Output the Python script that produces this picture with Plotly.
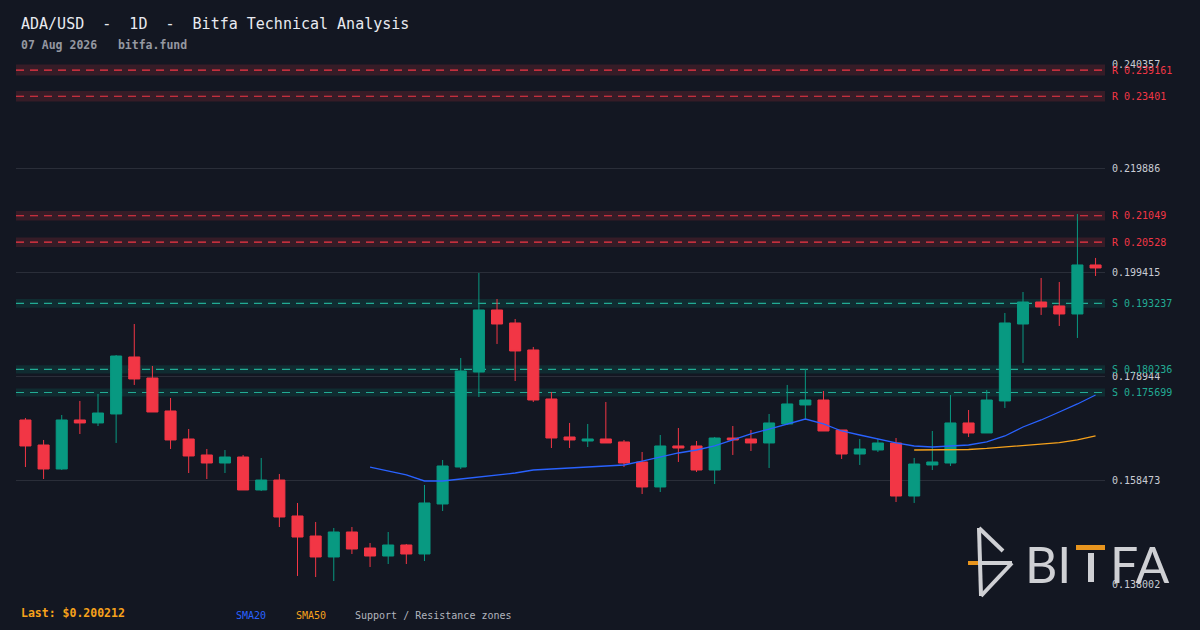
import pandas as pd
import plotly.graph_objects as go

# ADA/USD daily candles, 60 sessions ending 07 Aug 2026
dates = pd.date_range(end="2026-08-07", periods=60, freq="D")

open_ = [0.17029, 0.16536, 0.16064, 0.17029, 0.16970, 0.17147, 0.18269, 0.17855, 0.17206, 0.16655,
         0.16340, 0.16182, 0.16300, 0.15651, 0.15847, 0.15139, 0.14745, 0.14332, 0.14824, 0.14509,
         0.14351, 0.14568, 0.14391, 0.15375, 0.16103, 0.17973, 0.19194, 0.18938, 0.18407, 0.17442,
         0.16694, 0.16615, 0.16655, 0.16596, 0.16202, 0.15710, 0.16517, 0.16517, 0.16044, 0.16674,
         0.16655, 0.16576, 0.16950, 0.17324, 0.17422, 0.16832, 0.16359, 0.16438, 0.16576, 0.15532,
         0.16143, 0.16182, 0.16970, 0.16773, 0.17403, 0.18918, 0.19351, 0.19273, 0.19115, 0.20080]
high = [0.17068, 0.16635, 0.17127, 0.17403, 0.17540, 0.18308, 0.18918, 0.18092, 0.17462, 0.16851,
        0.16458, 0.16438, 0.16340, 0.16281, 0.15966, 0.15395, 0.15021, 0.14903, 0.14922, 0.14607,
        0.14824, 0.14588, 0.15749, 0.16241, 0.18249, 0.19922, 0.19410, 0.19017, 0.18466, 0.17580,
        0.16970, 0.16950, 0.17383, 0.16635, 0.16399, 0.16733, 0.16871, 0.16615, 0.16694, 0.16910,
        0.16832, 0.17147, 0.17718, 0.18033, 0.17599, 0.16832, 0.16655, 0.16655, 0.16674, 0.16281,
        0.16812, 0.17521, 0.17225, 0.17619, 0.19135, 0.19548, 0.19824, 0.19745, 0.21084, 0.20218]
low = [0.16103, 0.15867, 0.16044, 0.16753, 0.16910, 0.16576, 0.17718, 0.17186, 0.16458, 0.15985,
       0.15867, 0.15985, 0.15651, 0.15631, 0.14922, 0.13958, 0.13938, 0.13859, 0.14391, 0.14135,
       0.14194, 0.14194, 0.14253, 0.15237, 0.16064, 0.17481, 0.18525, 0.17796, 0.17383, 0.16477,
       0.16477, 0.16497, 0.16576, 0.16103, 0.15572, 0.15611, 0.16202, 0.16005, 0.15769, 0.16340,
       0.16418, 0.16084, 0.16930, 0.17048, 0.16812, 0.16261, 0.16143, 0.16399, 0.15414, 0.15395,
       0.16044, 0.16123, 0.16694, 0.16773, 0.17265, 0.18151, 0.19096, 0.18879, 0.18643, 0.19863]
close = [0.16517, 0.16064, 0.17029, 0.16970, 0.17166, 0.18288, 0.17836, 0.17186, 0.16635, 0.16320,
         0.16182, 0.16300, 0.15651, 0.15847, 0.15119, 0.14725, 0.14332, 0.14824, 0.14489, 0.14351,
         0.14568, 0.14391, 0.15395, 0.16123, 0.17993, 0.19194, 0.18918, 0.18387, 0.17422, 0.16674,
         0.16635, 0.16655, 0.16576, 0.16182, 0.15710, 0.16517, 0.16477, 0.16044, 0.16674, 0.16635,
         0.16576, 0.16970, 0.17344, 0.17422, 0.16812, 0.16359, 0.16458, 0.16576, 0.15532, 0.16162,
         0.16202, 0.16970, 0.16773, 0.17422, 0.18938, 0.19351, 0.19253, 0.19115, 0.20080, 0.20021]

# moving averages (start once enough history exists)
sma20 = [None] * 19 + [0.16103, 0.16025, 0.15946, 0.15828, 0.15828, 0.15867, 0.15907, 0.15946, 0.15985, 0.16044,
                       0.16064, 0.16084, 0.16094, 0.16113, 0.16143, 0.16221, 0.16300, 0.16379, 0.16438, 0.16517,
                       0.16635, 0.16753, 0.16851, 0.16950, 0.17048, 0.16950, 0.16812, 0.16733, 0.16655, 0.16576,
                       0.16517, 0.16497, 0.16517, 0.16536, 0.16596, 0.16714, 0.16891, 0.17029, 0.17186, 0.17344,
                       0.17521]
sma50 = [None] * 49 + [0.16438, 0.16438, 0.16438, 0.16448, 0.16468, 0.16497, 0.16536, 0.16556, 0.16583, 0.16635,
                       0.16714]

resistance = [0.239161, 0.23401, 0.21049, 0.20528]
support = [0.193237, 0.180236, 0.175699]
tick_vals = [0.138002, 0.158473, 0.178944, 0.199415, 0.219886, 0.240357]
last_price = "0.200212"

BG = "#131722"
UP = "#089981"
DOWN = "#f23645"
TEAL = "#22ab94"
MONO = "DejaVu Sans Mono"
ZONE = 0.0045

# plot area in pixels, used to place the decorations
L, R, T, B = 16, 1105, 64, 584


def px(x):
    return (x - L) / (R - L)


def py(y):
    return (B - y) / (B - T)


fig = go.Figure()
fig.add_trace(go.Candlestick(
    x=dates, open=open_, high=high, low=low, close=close,
    increasing=dict(line=dict(color=UP, width=1), fillcolor=UP),
    decreasing=dict(line=dict(color=DOWN, width=1), fillcolor=DOWN),
    whiskerwidth=0, showlegend=False, name="ADA/USD",
))
fig.add_trace(go.Scatter(x=dates, y=sma20, mode="lines", line=dict(color="#2962ff", width=1.3),
                         showlegend=False, name="SMA20"))
fig.add_trace(go.Scatter(x=dates, y=sma50, mode="lines", line=dict(color="#f7a21b", width=1.3),
                         showlegend=False, name="SMA50"))

shapes = []
annotations = []
for lv, col, band, tag in [(v, DOWN, "rgba(242,54,69,0.16)", "R") for v in resistance] + \
                          [(v, TEAL, "rgba(8,153,129,0.16)", "S") for v in support]:
    shapes.append(dict(type="rect", xref="paper", yref="y", x0=0, x1=1, y0=lv * (1 - ZONE), y1=lv * (1 + ZONE),
                       fillcolor=band, line=dict(width=0), layer="below"))
    shapes.append(dict(type="line", xref="paper", yref="y", x0=0, x1=1, y0=lv, y1=lv,
                       line=dict(color=col, width=1.2, dash="8px,6px"), layer="below"))
    annotations.append(dict(xref="paper", yref="y", x=1, y=lv, xanchor="left", xshift=5, showarrow=False,
                            text=f"{tag} {lv}", font=dict(family=MONO, size=10, color=col)))

# header / footer texts
annotations += [
    dict(xref="paper", yref="paper", x=px(19), y=py(24), xanchor="left", yanchor="middle", showarrow=False,
         text="ADA/USD  -  1D  -  Bitfa Technical Analysis", font=dict(family=MONO, size=15, color="#e8eaf0")),
    dict(xref="paper", yref="paper", x=px(19), y=py(45), xanchor="left", yanchor="middle", showarrow=False,
         text="<b>07 Aug 2026   bitfa.fund</b>", font=dict(family=MONO, size=11.5, color="#9598a1")),
    dict(xref="paper", yref="paper", x=px(19), y=py(613), xanchor="left", yanchor="middle", showarrow=False,
         text=f"<b>Last: ${last_price}</b>", font=dict(family=MONO, size=11.5, color="#f7a21b")),
    dict(xref="paper", yref="paper", x=px(234), y=py(615), xanchor="left", yanchor="middle", showarrow=False,
         text="SMA20", font=dict(family=MONO, size=10, color="#2962ff")),
    dict(xref="paper", yref="paper", x=px(294), y=py(615), xanchor="left", yanchor="middle", showarrow=False,
         text="SMA50", font=dict(family=MONO, size=10, color="#f7a21b")),
    dict(xref="paper", yref="paper", x=px(353), y=py(615), xanchor="left", yanchor="middle", showarrow=False,
         text="Support / Resistance zones", font=dict(family=MONO, size=10, color="#b2b5be")),
]

# BITFA logo, bottom right
LOGO = "#cfd0d4"
ORANGE = "#e8951e"
for (x0, y0, x1, y1, c) in [(979, 528, 981, 596, LOGO), (979, 528, 1003, 551, LOGO),
                            (968, 563, 978, 563, ORANGE), (978, 563, 1012, 563, LOGO),
                            (1012, 563, 981, 596, LOGO)]:
    shapes.append(dict(type="line", xref="paper", yref="paper", x0=px(x0), y0=py(y0), x1=px(x1), y1=py(y1),
                       line=dict(color=c, width=4), layer="above"))
shapes.append(dict(type="rect", xref="paper", yref="paper", x0=px(1076), x1=px(1105), y0=py(550), y1=py(545),
                   fillcolor=ORANGE, line=dict(width=0), layer="above"))
shapes.append(dict(type="rect", xref="paper", yref="paper", x0=px(1088), x1=px(1094), y0=py(582), y1=py(553),
                   fillcolor=LOGO, line=dict(width=0), layer="above"))
annotations += [
    dict(xref="paper", yref="paper", x=px(1073), y=py(564), xanchor="right", yanchor="middle", showarrow=False,
         text="BI", font=dict(family="Lato", size=50, color=LOGO)),
    dict(xref="paper", yref="paper", x=px(1108), y=py(564), xanchor="left", yanchor="middle", showarrow=False,
         text="FA", font=dict(family="Lato", size=50, color=LOGO)),
]

fig.update_layout(
    width=1200, height=630,
    margin=dict(l=L, r=1200 - R, t=T, b=630 - B),
    paper_bgcolor=BG, plot_bgcolor=BG,
    boxgap=0.39, boxgroupgap=0,
    shapes=shapes, annotations=annotations,
    xaxis=dict(type="date", showgrid=False, showticklabels=False, zeroline=False, showline=False,
               rangeslider=dict(visible=False),
               range=[dates[0] - pd.Timedelta(hours=12.5), dates[-1] + pd.Timedelta(hours=12.5)]),
    yaxis=dict(side="right", range=[tick_vals[0], tick_vals[-1]], tickvals=tick_vals,
               ticktext=[f"{v:.6f}" for v in tick_vals], showgrid=True, gridcolor="#2a2e39", gridwidth=1,
               zeroline=False, showline=False, ticks="", ticklabelstandoff=6,
               tickfont=dict(family=MONO, size=10, color="#c9ccd4")),
    showlegend=False,
)

fig.write_html("out.html", config={"displayModeBar": False},
               post_script="document.body.style.margin='0';document.body.style.background='#131722';")
